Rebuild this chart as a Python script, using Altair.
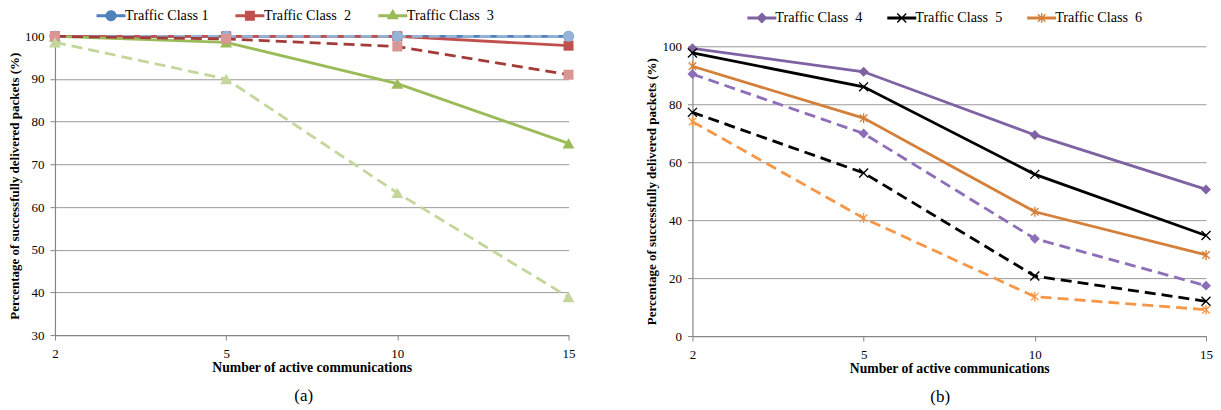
import math
import altair as alt
import pandas as pd

# ---------------- data ----------------
x_cats = ["2", "5", "10", "15"]

# panel (a)
tc1_solid = [100, 100, 100, 100]
tc1_dashed = [100, 100, 100, 100]
tc2_solid = [100, 100, 100, 97.8]
tc2_dashed = [100, 99.4, 97.6, 91.0]
tc3_solid = [100, 98.6, 88.9, 74.9]
tc3_dashed = [98.6, 90.0, 63.3, 38.9]

# panel (b)
tc4_solid = [99.3, 91.2, 69.4, 50.6]
tc4_dashed = [90.4, 69.9, 33.6, 17.4]
tc5_solid = [97.7, 86.0, 55.8, 34.7]
tc5_dashed = [77.2, 56.3, 20.7, 12.0]
tc6_solid = [93.1, 75.2, 42.9, 28.0]
tc6_dashed = [74.0, 40.7, 13.6, 9.1]

legend_a = ["Traffic Class 1", "Traffic Class\u00a0 2", "Traffic Class\u00a0 3"]
legend_b = ["Traffic Class\u00a0 4", "Traffic Class\u00a0 5", "Traffic Class\u00a0 6"]
y_ticks_a = [30, 40, 50, 60, 70, 80, 90, 100]
y_ticks_b = [0, 20, 40, 60, 80, 100]
x_title = "Number of active communications"
y_title = "Percentage of successfully delivered packets (%)"
captions = ["(a)", "(b)"]

FONT = "Liberation Serif"

# ---------------- marker geometry helpers ----------------
def _area(pts):
    s = 0
    for i in range(len(pts)):
        x1, y1 = pts[i]
        x2, y2 = pts[(i + 1) % len(pts)]
        s += x1 * y2 - x2 * y1
    return s

def poly(pts):
    if _area(pts) > 0:
        pts = pts[::-1]
    return "M" + "L".join(f"{x:.4f},{y:.4f}" for x, y in pts) + "Z"

def seg(x1, y1, x2, y2, w):
    dx, dy = x2 - x1, y2 - y1
    L = math.hypot(dx, dy)
    nx, ny = -dy / L * w / 2, dx / L * w / 2
    return poly([(x1 + nx, y1 + ny), (x2 + nx, y2 + ny), (x2 - nx, y2 - ny), (x1 - nx, y1 - ny)])

def circle_p(r):
    return f"M{-r:.4f},0A{r:.4f},{r:.4f} 0 1,0 {r:.4f},0A{r:.4f},{r:.4f} 0 1,0 {-r:.4f},0Z"

def square_p(r):
    return poly([(-r, -r), (r, -r), (r, r), (-r, r)])

def diamond_p(r):
    return poly([(0, -r), (r, 0), (0, r), (-r, 0)])

def triangle_p(r):
    h = r * math.tan(math.pi / 6)
    return poly([(0, -2 * h), (r, h), (-r, h)])

def x_p(r, w):
    return seg(-r, -r, r, r, w) + seg(-r, r, r, -r, w)

def star_p(r, w):
    a = r * 0.75
    return seg(-a, -a, a, a, w) + seg(-a, a, a, -a, w) + seg(0, -r, 0, r, w)

def legend_symbol(kind, size_px):
    k = math.sqrt(size_px) / 2.0  # px per path unit
    line = seg(-14.5 / k, 0, 14.5 / k, 0, 3.0 / k)
    if kind == "circle":
        m = circle_p(5.5 / k)
    elif kind == "square":
        m = square_p(5.0 / k)
    elif kind == "triangle":
        m = triangle_p(6.0 / k)
    elif kind == "diamond":
        m = diamond_p(5.5 / k)
    elif kind == "x":
        m = x_p(4.5 / k, 1.4 / k)
    else:
        m = star_p(5.0 / k, 1.4 / k)
    return line + m

X_MARK = x_p(1.0, 0.30)
STAR_MARK = star_p(1.0, 0.27)

# ---------------- panel builder ----------------
def panel(series, names, leg_colors, leg_kinds, leg_size, y_dom, y_ticks, height,
          leg_x, leg_y, col_pad, lab_off, caption, cap_dx, cap_sub_size):
    xenc = alt.X("x:O", sort=x_cats,
                 scale=alt.Scale(domain=x_cats, padding=0),
                 axis=alt.Axis(title=x_title, labelAngle=0, grid=False,
                               tickSize=5, tickColor="#868686",
                               domainColor="#868686", domainWidth=1.2,
                               labelFont=FONT, labelFontSize=13, labelColor="black",
                               labelPadding=7,
                               titleFont=FONT, titleFontSize=13.7, titleFontWeight="bold",
                               titleColor="black", titlePadding=0))
    yenc = alt.Y("y:Q",
                 scale=alt.Scale(domain=y_dom, nice=False, zero=False),
                 axis=alt.Axis(title=y_title, values=y_ticks, grid=True,
                               gridColor="#9A9A9A", gridWidth=1,
                               tickSize=5, tickColor="#868686",
                               domainColor="#868686", domainWidth=1.2,
                               labelFont=FONT, labelFontSize=13, labelColor="black",
                               labelPadding=6,
                               titleFont=FONT, titleFontSize=13.0, titleFontWeight="bold",
                               titleColor="black", titlePadding=3))
    layers = []
    for vals, lcol, mcol, dash, shape, msize in series:
        df = pd.DataFrame({"x": x_cats, "y": vals})
        lkw = dict(color=lcol, strokeWidth=2.8)
        if dash:
            lkw["strokeDash"] = [11, 6]
        layers.append(alt.Chart(df).mark_line(**lkw).encode(x=xenc, y=yenc))
        layers.append(alt.Chart(df).mark_point(filled=True, shape=shape, size=msize,
                                               color=mcol, opacity=1).encode(x=xenc, y=yenc))
    # legend-only layer (points clipped out of the plot area)
    ldf = pd.DataFrame({"name": names, "x": [x_cats[0]] * len(names),
                        "y": [y_dom[0] - 1000] * len(names)})
    leg = alt.Legend(title=None, orient="none", legendX=leg_x, legendY=leg_y,
                     direction="horizontal", columns=len(names), padding=0,
                     symbolSize=leg_size, symbolStrokeWidth=0,
                     columnPadding=col_pad, labelOffset=lab_off,
                     labelFont=FONT, labelFontSize=14.2, labelColor="black",
                     labelLimit=300)
    layers.append(
        alt.Chart(ldf).mark_point(filled=True, clip=True, opacity=1).encode(
            x=xenc, y=yenc,
            color=alt.Color("name:N", scale=alt.Scale(domain=names, range=leg_colors), legend=leg),
            shape=alt.Shape("name:N", scale=alt.Scale(domain=names,
                                                     range=[legend_symbol(k, leg_size) for k in leg_kinds]),
                            legend=leg),
        )
    )
    tkw = dict(orient="bottom", font=FONT, fontSize=17, fontWeight="normal",
               color="black", offset=14, dx=cap_dx)
    if cap_sub_size:
        tkw.update(subtitle=" ", subtitleFontSize=cap_sub_size, subtitlePadding=0)
    return alt.layer(*layers).properties(
        width=514, height=height,
        title=alt.TitleParams(caption, **tkw),
    )

series_a = [
    (tc1_solid, "#4F81BD", "#4F81BD", False, "circle", 121),
    (tc2_solid, "#C0504D", "#C0504D", False, "square", 100),
    (tc3_solid, "#9BBB59", "#9BBB59", False, "triangle-up", 144),
    (tc1_dashed, "#95B3D7", "#95B3D7", True, "circle", 121),
    (tc2_dashed, "#A33B39", "#D99694", True, "square", 100),
    (tc3_dashed, "#C3D69B", "#C3D69B", True, "triangle-up", 144),
]
series_b = [
    (tc4_solid, "#7E62A1", "#7E62A1", False, "diamond", 100),
    (tc5_solid, "#000000", "#000000", False, X_MARK, 81),
    (tc6_solid, "#D4803A", "#D4803A", False, STAR_MARK, 100),
    (tc4_dashed, "#8D6EB8", "#8D6EB8", True, "diamond", 100),
    (tc5_dashed, "#000000", "#000000", True, X_MARK, 81),
    (tc6_dashed, "#F79646", "#F79646", True, STAR_MARK, 100),
]

pa = panel(series_a, legend_a, ["#4F81BD", "#C0504D", "#9BBB59"],
           ["circle", "square", "triangle"], 121, [30, 100], y_ticks_a, 299,
           49, -28, 26, 7, captions[0], -8, 10)
pb = panel(series_b, legend_b, ["#7E62A1", "#000000", "#D4803A"],
           ["diamond", "x", "star"], 272, [0, 100], y_ticks_b, 290,
           61, -37, 23, 5, captions[1], -9, 0)

chart = alt.hconcat(pa, pb, spacing=70, center=True).resolve_scale(
    color="independent", shape="independent", x="independent", y="independent"
).properties(
    padding={"left": 0, "top": 0, "right": 0, "bottom": 0}
).configure_view(stroke=None)

chart.save("out.html", embed_options={"renderer": "svg", "actions": False})
